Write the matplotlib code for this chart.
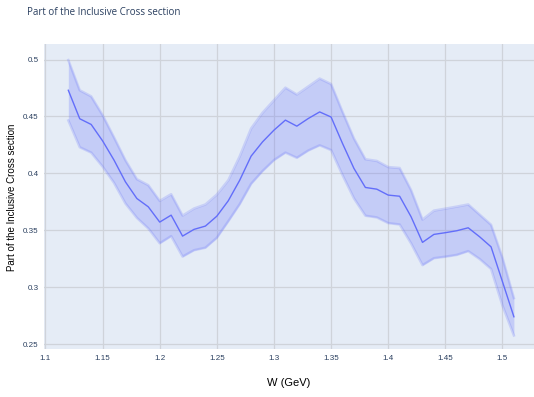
import matplotlib
matplotlib.use("Agg")
import matplotlib.pyplot as plt
import numpy as np

# W values (GeV), measured fraction and its uncertainty
w = [1.12, 1.13, 1.14, 1.15, 1.16, 1.17, 1.18, 1.19, 1.20, 1.21,
     1.22, 1.23, 1.24, 1.25, 1.26, 1.27, 1.28, 1.29, 1.30, 1.31,
     1.32, 1.33, 1.34, 1.35, 1.36, 1.37, 1.38, 1.39, 1.40, 1.41,
     1.42, 1.43, 1.44, 1.45, 1.46, 1.47, 1.48, 1.49, 1.50, 1.51]
part = [0.473, 0.448, 0.443, 0.4286, 0.4117, 0.3926, 0.378, 0.3707, 0.3573, 0.3634,
        0.345, 0.3509, 0.3538, 0.3625, 0.376, 0.394, 0.4152, 0.4277, 0.438, 0.4468,
        0.4415, 0.4482, 0.454, 0.4495, 0.4263, 0.4044, 0.3877, 0.3862, 0.381, 0.380,
        0.362, 0.3395, 0.3465, 0.348, 0.3497, 0.3523, 0.3444, 0.3356, 0.305, 0.2742]
err = [0.0265, 0.025, 0.0247, 0.0226, 0.020, 0.019, 0.017, 0.019, 0.0186, 0.0184,
       0.018, 0.0183, 0.019, 0.019, 0.018, 0.021, 0.0243, 0.0256, 0.0263, 0.0285,
       0.0278, 0.0281, 0.0293, 0.029, 0.0278, 0.0263, 0.0248, 0.0248, 0.0246, 0.0248,
       0.0234, 0.020, 0.0209, 0.0211, 0.0212, 0.0205, 0.0195, 0.0194, 0.021, 0.0164]

xticks = [1.1, 1.15, 1.2, 1.25, 1.3, 1.35, 1.4, 1.45, 1.5]
xlabels = ["1.1", "1.15", "1.2", "1.25", "1.3", "1.35", "1.4", "1.45", "1.5"]
yticks = [0.25, 0.3, 0.35, 0.4, 0.45, 0.5]
ylabels = ["0.25", "0.3", "0.35", "0.4", "0.45", "0.5"]

line_col = "#636EFA"
x = np.array(w)
y = np.array(part)
e = np.array(err)

fig = plt.figure(figsize=(5.34, 3.97), dpi=100)
ax = fig.add_axes([0.083, 0.12, 0.917, 0.768])
ax.set_facecolor("#E5ECF6")

# uncertainty band
ax.fill_between(x, y - e, y + e, color=line_col, alpha=0.25, linewidth=0)
ax.plot(x, y + e, color=line_col, alpha=0.22, linewidth=1.8)
ax.plot(x, y - e, color=line_col, alpha=0.22, linewidth=1.8)
# central line
ax.plot(x, y, color=line_col, linewidth=1.0)

ax.set_xlim(1.099, 1.5276)
ax.set_ylim(0.2456, 0.5132)
ax.set_xticks(xticks)
ax.set_xticklabels(xlabels)
ax.set_yticks(yticks)
ax.set_yticklabels(ylabels)
ax.grid(True, color="#cfd3da", linewidth=0.9)
ax.set_axisbelow(True)
for s in ax.spines.values():
    s.set_visible(False)
ax.tick_params(length=0, labelsize=5.8, labelcolor="#2a3f5f", pad=4)
for lab in ax.get_xticklabels() + ax.get_yticklabels():
    lab.set_family("Liberation Sans")

ax.set_xlabel("W (GeV)", fontsize=8, family="Liberation Sans")
ax.xaxis.set_label_coords(0.5, -0.11)
ax.xaxis.label.set_va("center")
ax.set_ylabel("Part of the Inclusive Cross section", fontsize=7,
              family="Liberation Sans")
ax.yaxis.set_label_coords(-0.066, 0.5)
ax.yaxis.label.set_va("center")

fig.text(0.051, 0.968, "Part of the Inclusive Cross section", fontsize=7,
         color="#2a3f5f", family="Open Sans", va="center", ha="left")

fig.savefig("out.png", dpi=100)
